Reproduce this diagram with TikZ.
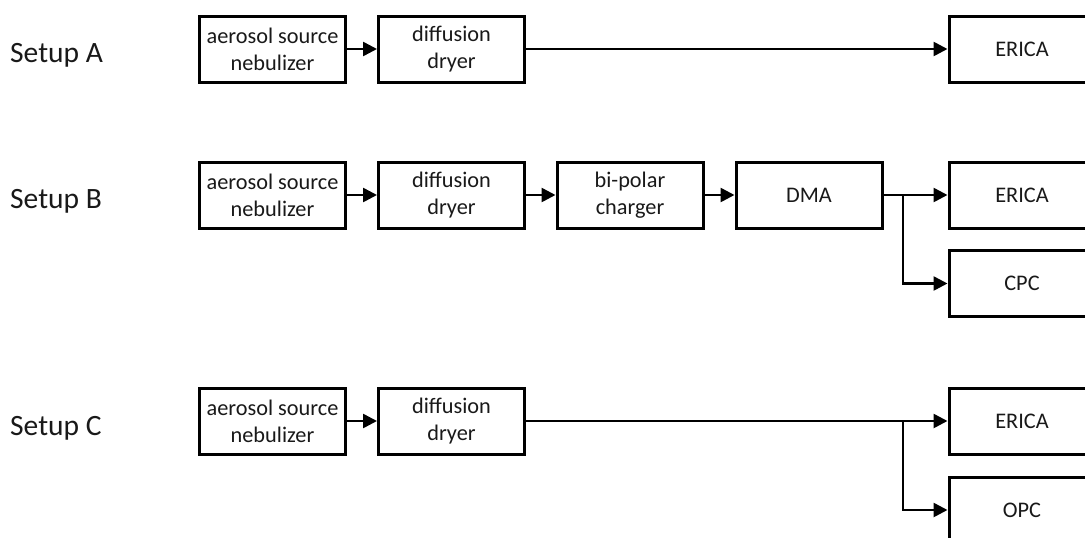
\documentclass[tikz,border=0pt]{standalone}
\usepackage{fontspec}
\setmainfont{Carlito}
\usetikzlibrary{arrows.meta}
\begin{document}
\begin{tikzpicture}[x=1pt,y=-1pt,
  box/.style={draw, line width=3pt, minimum width=146pt, minimum height=66pt, inner sep=0pt, align=center, text=black!90, font=\fontsize{22.3}{27}\selectfont},
  lab/.style={anchor=base west, inner sep=0pt, text=black!90, font=\fontsize{29.5}{32}\selectfont},
  conn/.style={line width=2.6pt, -{Triangle[length=14pt,width=14pt]}}]
\useasboundingbox (0,0) rectangle (1085,538);
\clip (0,0) rectangle (1085,538);
% labels
\node[lab] (labA) at (10,62) {Setup A};
\node[lab] (labB) at (10,208) {Setup B};
\node[lab] (labC) at (10,435) {Setup C};
% Setup A
\node[box] (a1) at (272.5,49) {aerosol source\\nebulizer};
\node[box] (a2) at (451.5,49) {diffusion\\dryer};
\node[box] (a3) at (1022,49) {ERICA};
\draw[conn] (a1) -- (a2);
\draw[conn] (a2) -- (a3);
% Setup B
\node[box] (b1) at (272.5,195) {aerosol source\\nebulizer};
\node[box] (b2) at (451.5,195) {diffusion\\dryer};
\node[box] (b3) at (630,195) {bi-polar\\charger};
\node[box] (b4) at (809,195) {DMA};
\node[box] (b5) at (1022,195) {ERICA};
\node[box] (b6) at (1022,283.5) {CPC};
\draw[conn] (b1) -- (b2);
\draw[conn] (b2) -- (b3);
\draw[conn] (b3) -- (b4);
\draw[conn] (b4) -- (b5);
\coordinate (brB) at (903,195);
\draw[conn] (brB) |- (b6.west);
% Setup C
\node[box] (c1) at (272.5,421) {aerosol source\\nebulizer};
\node[box] (c2) at (451.5,421) {diffusion\\dryer};
\node[box] (c3) at (1022,421) {ERICA};
\node[box] (c4) at (1022,510) {OPC};
\draw[conn] (c1) -- (c2);
\draw[conn] (c2) -- (c3);
\coordinate (brC) at (903,421);
\draw[conn] (brC) |- (c4.west);
\end{tikzpicture}
\end{document}
